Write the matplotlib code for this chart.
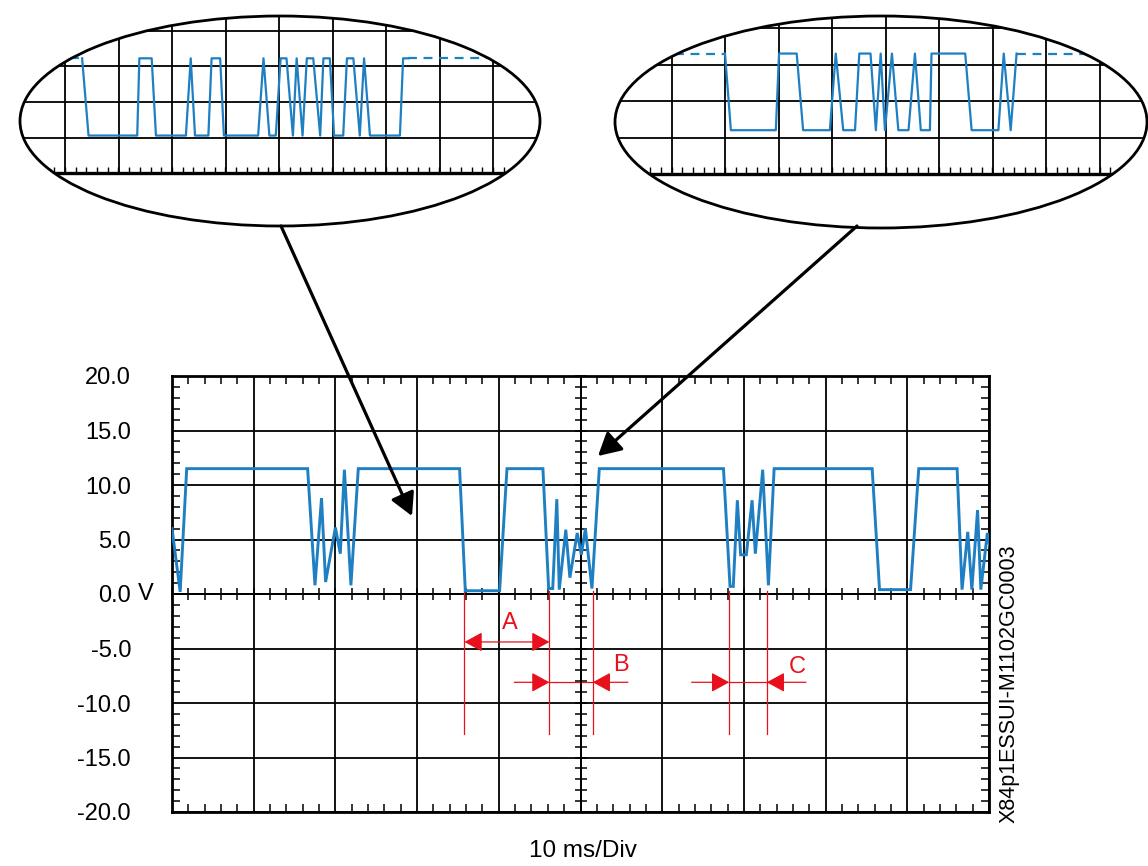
import matplotlib
matplotlib.use("Agg")
import matplotlib.pyplot as plt
from matplotlib.patches import Ellipse, FancyArrowPatch
from matplotlib.ticker import MultipleLocator
import numpy as np

plt.rcParams['font.family'] = ['Liberation Sans', 'DejaVu Sans']

# ---------------- data ----------------
# main oscilloscope trace: time in divisions (10 ms/Div), voltage in V
main_t = [0.00, 0.10, 0.18, 1.66, 1.75, 1.83, 1.88, 2.00, 2.06, 2.11,
          2.19, 2.28, 3.52, 3.59, 4.01, 4.10, 4.54, 4.61, 4.66, 4.71,
          4.74, 4.82, 4.87, 4.96, 5.01, 5.06, 5.14, 5.23, 6.75, 6.83,
          6.87, 6.92, 6.96, 7.03, 7.10, 7.14, 7.23, 7.30, 7.37, 8.57,
          8.66, 9.04, 9.14, 9.61, 9.67, 9.74, 9.79, 9.86, 9.90, 9.98,
          10.02]
main_v = [6.0, 0.2, 11.5, 11.5, 0.8, 8.8, 1.1, 6.1, 3.7, 11.4,
          0.8, 11.5, 11.5, 0.3, 0.3, 11.5, 11.5, 0.5, 0.5, 8.7,
          0.4, 5.9, 1.5, 5.6, 3.6, 6.0, 0.5, 11.5, 11.5, 0.7,
          0.7, 8.6, 3.6, 3.6, 8.6, 3.7, 11.4, 0.8, 11.5, 11.5,
          0.4, 0.4, 11.5, 11.5, 0.4, 5.7, 0.4, 7.7, 0.4, 5.6,
          3.9]

y_ticks = [20, 15, 10, 5, 0, -5, -10, -15, -20]
y_labels = ["20.0", "15.0", "10.0", "5.0", "0.0", "-5.0", "-10.0", "-15.0", "-20.0"]

# magnified views (in screen divisions)
left_t = [0.32, 0.44, 1.35, 1.39, 1.62, 1.70, 2.26, 2.35, 2.43, 2.68,
          2.74, 2.90, 2.97, 3.61, 3.71, 3.82, 3.94, 4.03, 4.14, 4.26,
          4.33, 4.44, 4.52, 4.64, 4.77, 4.83, 4.95, 5.03, 5.20, 5.27,
          5.39, 5.51, 5.59, 5.70, 6.26, 6.32, 6.42]
left_y = [3.23, 1.06, 1.06, 3.23, 3.23, 1.06, 1.06, 3.23, 1.06, 1.06,
          3.23, 3.23, 1.06, 1.06, 3.23, 1.06, 1.06, 3.23, 3.23, 1.06,
          3.23, 1.06, 3.23, 3.23, 1.06, 3.23, 3.23, 1.06, 1.06, 3.23,
          3.23, 1.06, 3.23, 1.06, 1.06, 3.23, 3.23]
left_dash_a = [0.09, 0.32]
left_dash_b = [6.42, 8.10]
left_dash_y = 3.23

right_t = [1.00, 1.11, 1.95, 2.01, 2.34, 2.46, 2.96, 3.07, 3.21, 3.43,
           3.51, 3.72, 3.82, 3.91, 3.99, 4.12, 4.24, 4.43, 4.55, 4.66,
           4.83, 4.86, 5.49, 5.61, 6.11, 6.21, 6.34, 6.45]
right_y = [3.30, 1.20, 1.20, 3.30, 3.30, 1.20, 1.20, 3.30, 1.20, 1.20,
           3.30, 3.30, 1.20, 3.30, 1.20, 3.30, 1.20, 1.20, 3.30, 1.20,
           1.20, 3.30, 3.30, 1.20, 1.20, 3.30, 1.20, 3.30]
right_dash_a = [0.07, 1.00]
right_dash_b = [6.45, 7.95]
right_dash_y = 3.30

# cursor markers (divisions) and labels
cursor_x = [3.58, 4.62, 5.15, 6.82, 7.28]
cursor_labels = ["A", "B", "C"]

# ---------------- layout ----------------
W, H = 1148, 866
fig = plt.figure(figsize=(W / 100, H / 100), dpi=100)
fig.patch.set_facecolor("white")


def box(x0, y0, x1, y1):
    return [x0 / W, 1 - y1 / H, (x1 - x0) / W, (y1 - y0) / H]


def fpt(x, y):
    return (x / W, 1 - y / H)


BLUE = "#1f7fc3"
RED = "#e8101c"

# main screen
main_box = box(172, 376, 989, 812)
ax = fig.add_axes(main_box)
ax.set_xlim(0, 10)
ax.set_ylim(-20, 20)
ax.set_xticks(np.arange(0, 11, 1))
ax.set_yticks(y_ticks)
ax.set_yticklabels(y_labels, fontsize=17)
ax.set_xticklabels([])
ax.xaxis.set_minor_locator(MultipleLocator(0.2))
ax.yaxis.set_minor_locator(MultipleLocator(1))
ax.tick_params(which='major', length=0, pad=29.5)
ax.tick_params(which='minor', direction='in', length=5.5, width=1.1,
               top=True, right=True, bottom=True, left=True)
ax.grid(True, which='major', color='black', lw=1.3)
for s in ax.spines.values():
    s.set_linewidth(2.0)
ax.text(-0.0327, 0, "V", transform=ax.get_yaxis_transform(), ha='center',
        va='center', fontsize=17)

# centre cross with ticks
ax2 = fig.add_axes(main_box)
ax2.set_xlim(0, 10)
ax2.set_ylim(-20, 20)
ax2.patch.set_visible(False)
ax2.set_xticks([])
ax2.set_yticks([])
ax2.xaxis.set_minor_locator(MultipleLocator(0.2))
ax2.yaxis.set_minor_locator(MultipleLocator(1))
ax2.spines['left'].set_position(('data', 5))
ax2.spines['bottom'].set_position(('data', 0))
ax2.spines['top'].set_visible(False)
ax2.spines['right'].set_visible(False)
ax2.spines['left'].set_linewidth(1.4)
ax2.spines['bottom'].set_linewidth(1.4)
ax2.tick_params(which='minor', direction='inout', length=8, width=1.1,
                labelleft=False, labelbottom=False)

ax2.plot(main_t, main_v, color=BLUE, lw=2.1, zorder=4, clip_on=True,
         solid_joinstyle='miter')

# cursors
for cx in cursor_x:
    ax2.plot([cx, cx], [0.3, -12.8], color=RED, lw=0.9, zorder=3)

ap = dict(arrowstyle='-|>,head_length=0.55,head_width=0.3', color=RED, lw=0.9,
          shrinkA=0, shrinkB=0, mutation_scale=20)
ap2 = dict(arrowstyle='<|-|>,head_length=0.55,head_width=0.3', color=RED, lw=0.9,
           shrinkA=0, shrinkB=0, mutation_scale=20)
# A
ax2.annotate("", xy=(cursor_x[0], -4.4), xytext=(cursor_x[1], -4.4), arrowprops=ap2)
ax2.text(4.14, -2.7, cursor_labels[0], color=RED, fontsize=17, ha='center', va='center')
# B
ax2.plot([cursor_x[1], cursor_x[2]], [-8.1, -8.1], color=RED, lw=0.9)
ax2.annotate("", xy=(cursor_x[1], -8.1), xytext=(4.19, -8.1), arrowprops=ap)
ax2.annotate("", xy=(cursor_x[2], -8.1), xytext=(5.58, -8.1), arrowprops=ap)
ax2.text(5.49, -6.5, cursor_labels[1], color=RED, fontsize=17, ha='center', va='center')
# C
ax2.plot([cursor_x[3], cursor_x[4]], [-8.1, -8.1], color=RED, lw=0.9)
ax2.annotate("", xy=(cursor_x[3], -8.1), xytext=(6.36, -8.1), arrowprops=ap)
ax2.annotate("", xy=(cursor_x[4], -8.1), xytext=(7.76, -8.1), arrowprops=ap)
ax2.text(7.65, -6.7, cursor_labels[2], color=RED, fontsize=17, ha='center', va='center')


# magnified ellipses
def inset(bbox, xlim, ylim, t, y, dash_a, dash_b, dash_y):
    a = fig.add_axes(box(*bbox))
    a.set_xlim(xlim)
    a.set_ylim(ylim)
    a.axis('off')
    ell = Ellipse((0.5, 0.5), 1, 1, transform=a.transAxes, fill=False,
                  lw=2.0, ec='black', clip_on=False, zorder=6)
    a.add_patch(ell)
    arts = []
    arts.append(a.vlines(np.arange(0, 9), 0, ylim[1], color='black', lw=1.3))
    arts.append(a.hlines([1, 2, 3, 4], xlim[0], xlim[1], color='black', lw=1.3))
    arts.append(a.hlines([0], xlim[0], xlim[1], color='black', lw=2.4))
    arts.append(a.vlines(np.arange(np.ceil(xlim[0] * 5) / 5, xlim[1], 0.2), 0, 0.19,
                         color='black', lw=1.0))
    arts += a.plot(t, y, color=BLUE, lw=1.6, zorder=4)
    arts += a.plot(dash_a, [dash_y, dash_y], color=BLUE, lw=1.6, ls=(0, (4, 3)), zorder=4)
    arts += a.plot(dash_b, [dash_y, dash_y], color=BLUE, lw=1.6, ls=(0, (4, 3)), zorder=4)
    for art in arts:
        art.set_clip_path(ell)
    return a


inset((20, 16, 540, 226), ((20 - 65) / 53.5, (540 - 65) / 53.5),
      ((173.3 - 226) / 35.6, (173.3 - 16) / 35.6),
      left_t, left_y, left_dash_a, left_dash_b, left_dash_y)
inset((615, 16, 1147, 228), ((615 - 671.5) / 53.5, (1147 - 671.5) / 53.5),
      ((174 - 228) / 36.5, (174 - 16) / 36.5),
      right_t, right_y, right_dash_a, right_dash_b, right_dash_y)

# pointer arrows
for (x0, y0), (x1, y1) in [((281, 226), (412, 516)), ((857, 226), (598, 456))]:
    fig.add_artist(FancyArrowPatch(fpt(x0, y0), fpt(x1, y1), transform=fig.transFigure,
                                   arrowstyle='-|>,head_length=0.55,head_width=0.3',
                                   mutation_scale=25, lw=2.3, color='black',
                                   shrinkA=0, shrinkB=0))

fig.text(*fpt(583, 851), "10 ms/Div", ha='center', va='center', fontsize=17.5)
fig.text(*fpt(1009, 684), "X84p1ESSUI-M1102GC0003", rotation=90, ha='center',
         va='center', fontsize=15.5)

fig.savefig("out.png", dpi=100, facecolor="white")
